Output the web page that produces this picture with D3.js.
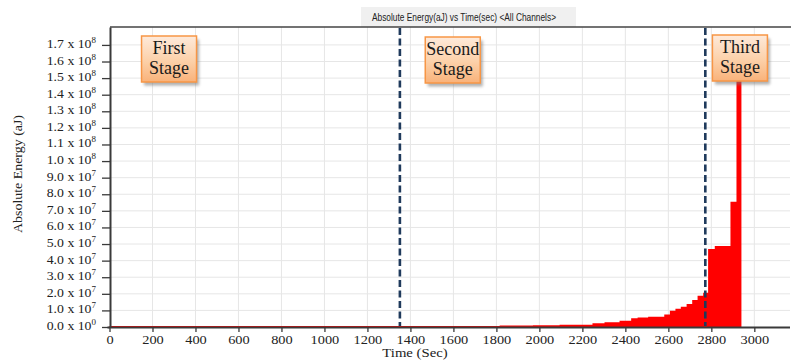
<!DOCTYPE html>
<html>
<head>
<meta charset="utf-8">
<script src="https://cdn.jsdelivr.net/npm/d3@7"></script>
<style>
  body { margin: 0; background: #fff; }
  svg { display: block; }
</style>
</head>
<body>
<div id="chart"></div>
<script>
// step edges (sec) and cumulative absolute energy (aJ) per step
const timeEdges = [0, 1815, 1970, 2094, 2247, 2303, 2373, 2427, 2457, 2506, 2581, 2607,
    2633, 2658, 2685, 2711, 2736, 2762, 2785, 2816, 2889, 2917, 2940];
const energy = [0.6e6, 0.9e6, 1.1e6, 1.4e6, 2.2e6, 2.8e6, 3.8e6, 5.2e6, 5.8e6, 6.2e6, 7.6e6,
    9.8e6, 11.0e6, 12.2e6, 13.9e6, 16.3e6, 18.9e6, 20.7e6, 47.0e6, 48.8e6, 75.5e6, 1.62e8];

const xTickValues = [0, 200, 400, 600, 800, 1000, 1200, 1400, 1600, 1800, 2000, 2200, 2400, 2600, 2800, 3000];
const yTickValues = [0, 1e7, 2e7, 3e7, 4e7, 5e7, 6e7, 7e7, 8e7, 9e7, 1.0e8, 1.1e8, 1.2e8, 1.3e8, 1.4e8, 1.5e8, 1.6e8, 1.7e8];

const stageBoundaries = [1351, 2772];
const stageNames = [["First", "Stage"], ["Second", "Stage"], ["Third", "Stage"]];
const stageCenters = [277, 1597, 2933];

const chartTitle = "Absolute Energy(aJ) vs Time(sec) <All Channels>";
const xTitle = "Time (Sec)";
const yTitle = "Absolute Energy (aJ)";

var width = 791, height = 361;
var svg = d3.select("#chart").append("svg")
    .attr("width", width)
    .attr("height", height);

var x = d3.scaleLinear().domain([0, 3166]).range([109.5, 790]);
var y = d3.scaleLinear().domain([0, 1.808e8]).range([327, 27]);

var defs = svg.append("defs");
var grad = defs.append("linearGradient").attr("id", "boxGrad")
    .attr("x1", 0).attr("y1", 0).attr("x2", 0).attr("y2", 1);
grad.append("stop").attr("offset", "0%").attr("stop-color", "#feeadb");
grad.append("stop").attr("offset", "55%").attr("stop-color", "#fcd0a8");
grad.append("stop").attr("offset", "100%").attr("stop-color", "#f9b27a");
var blur = defs.append("filter").attr("id", "shadow")
    .attr("x", "-20%").attr("y", "-20%").attr("width", "150%").attr("height", "150%");
blur.append("feGaussianBlur").attr("stdDeviation", 1.5);

// title tab
svg.append("rect")
    .attr("x", 361).attr("y", 7).attr("width", 215).attr("height", 20)
    .attr("fill", "#f0f0f0");
svg.append("text")
    .attr("x", 372).attr("y", 21)
    .attr("textLength", 184).attr("lengthAdjust", "spacingAndGlyphs")
    .style("font-family", "'Liberation Sans Narrow', 'Liberation Sans', Arial, sans-serif")
    .style("font-size", "11px")
    .attr("fill", "#222")
    .text(chartTitle);

// gridlines
svg.append("g").selectAll("line.vgrid")
    .data(xTickValues.slice(1))
    .enter().append("line")
    .attr("x1", function (d) { return x(d); })
    .attr("x2", function (d) { return x(d); })
    .attr("y1", y.range()[1]).attr("y2", y(0))
    .attr("stroke", "#e6e6e6").attr("stroke-width", 1);
svg.append("g").selectAll("line.hgrid")
    .data(yTickValues.slice(1))
    .enter().append("line")
    .attr("x1", x.range()[0]).attr("x2", x.range()[1])
    .attr("y1", function (d) { return y(d); })
    .attr("y2", function (d) { return y(d); })
    .attr("stroke", "#e6e6e6").attr("stroke-width", 1);

// energy steps
var stepPts = timeEdges.map(function (t, i) {
    return [t, i < energy.length ? energy[i] : energy[energy.length - 1]];
});
var area = d3.area()
    .curve(d3.curveStepAfter)
    .x(function (d) { return x(d[0]); })
    .y0(y(0))
    .y1(function (d) { return y(d[1]); });
svg.append("path")
    .datum(stepPts)
    .attr("d", area)
    .attr("fill", "#ff0000");

// stage boundaries
svg.append("g").selectAll("line")
    .data(stageBoundaries)
    .enter().append("line")
    .attr("x1", function (d) { return x(d); })
    .attr("x2", function (d) { return x(d); })
    .attr("y1", 28).attr("y2", 326)
    .attr("stroke", "#1f3a5c")
    .attr("stroke-width", 2.6)
    .attr("stroke-dasharray", "7,3.5");

// top border
svg.append("line")
    .attr("x1", 110).attr("x2", 791).attr("y1", 27).attr("y2", 27)
    .attr("stroke", "#444").attr("stroke-width", 1.5);

var axisFont = "'Liberation Serif', 'Times New Roman', serif";

// x axis
var xAxis = svg.append("g")
    .attr("transform", "translate(0," + y(0) + ")")
    .call(d3.axisBottom(x).tickValues(xTickValues).tickSize(5).tickSizeOuter(0));
xAxis.select(".domain").attr("stroke", "#3a3a3a").attr("stroke-width", 2)
    .attr("d", "M107.5,0.5H790");
xAxis.selectAll(".tick line").attr("stroke", "#3a3a3a").attr("stroke-width", 1.3);
xAxis.selectAll(".tick text").remove();
xAxis.selectAll(".tick").append("text")
    .attr("transform", "translate(0,17) scale(1.25,1)")
    .attr("text-anchor", "middle")
    .attr("fill", "#222")
    .style("font-family", axisFont)
    .style("font-size", "11.5px")
    .text(function (d) { return d; });

// y axis
var yAxis = svg.append("g")
    .attr("transform", "translate(110,0)")
    .call(d3.axisLeft(y).tickValues(yTickValues).tickSize(8).tickSizeOuter(0));
yAxis.select(".domain").attr("stroke", "#3a3a3a").attr("stroke-width", 2);
yAxis.selectAll(".tick line").attr("stroke", "#3a3a3a").attr("stroke-width", 1.3);
yAxis.selectAll(".tick text").remove();
var yLab = yAxis.selectAll(".tick").append("text")
    .attr("transform", "translate(-14,2.5) scale(1.2,1)")
    .attr("text-anchor", "end")
    .attr("fill", "#222")
    .style("font-family", axisFont)
    .style("font-size", "11.5px");
yLab.each(function (d) {
    var ex = d === 0 ? 0 : Math.floor(Math.log10(d) + 1e-9);
    var mant = d === 0 ? 0 : d / Math.pow(10, ex);
    var t = d3.select(this);
    t.append("tspan").text(mant.toFixed(1) + " x 10");
    t.append("tspan").attr("dy", -5).style("font-size", "7.5px").text(ex);
});

// axis titles
svg.append("text")
    .attr("x", 415).attr("y", 357)
    .attr("text-anchor", "middle")
    .attr("transform", "translate(415,0) scale(1.18,1) translate(-415,0)")
    .attr("fill", "#222")
    .style("font-family", axisFont)
    .style("font-size", "12.5px")
    .text(xTitle);
svg.append("text")
    .attr("transform", "translate(22,174) rotate(-90)")
    .attr("text-anchor", "middle")
    .attr("textLength", 118).attr("lengthAdjust", "spacingAndGlyphs")
    .attr("fill", "#222")
    .style("font-family", axisFont)
    .style("font-size", "13px")
    .text(yTitle);

// stage labels
var boxW = 55, boxH = 46;
var boxTops = [36, 37, 35];
var stages = svg.append("g").selectAll("g")
    .data(stageNames)
    .enter().append("g")
    .attr("transform", function (d, i) {
        return "translate(" + (x(stageCenters[i]) - boxW / 2) + "," + boxTops[i] + ")";
    });
stages.append("rect")
    .attr("x", 2.5).attr("y", 3.5).attr("width", boxW).attr("height", boxH)
    .attr("fill", "#7a7a7a").attr("opacity", 0.6)
    .attr("filter", "url(#shadow)");
stages.append("rect")
    .attr("width", boxW).attr("height", boxH)
    .attr("fill", "url(#boxGrad)")
    .attr("stroke", "#f79646").attr("stroke-width", 1.5);
stages.append("text")
    .attr("text-anchor", "middle")
    .attr("fill", "#1a1a1a")
    .style("font-family", axisFont)
    .style("font-size", "18px")
    .selectAll("tspan")
    .data(function (d) { return d; })
    .enter().append("tspan")
    .attr("x", boxW / 2)
    .attr("y", function (d, i) { return 18 + i * 20; })
    .text(function (d) { return d; });
</script>
</body>
</html>
